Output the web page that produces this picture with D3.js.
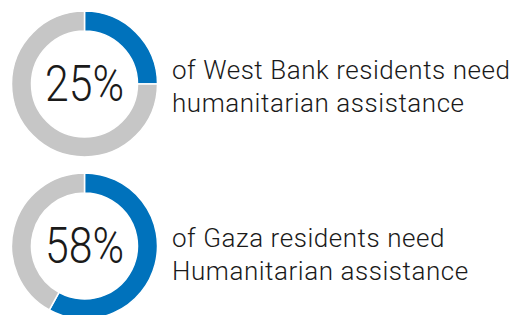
<!DOCTYPE html>
<html>
<head>
<meta charset="utf-8">
<script src="https://cdn.jsdelivr.net/npm/d3@7"></script>
<style>
  body { margin: 0; background: #fff; }
  text { font-family: Roboto, sans-serif; font-weight: 300; fill: #1a1a1a; }
</style>
</head>
<body>
<script>
const regions = ['West Bank', 'Gaza'];
const shares = [25, 58];
const captions = [
  ['of West Bank residents need', 'humanitarian assistance'],
  ['of Gaza residents need', 'Humanitarian assistance']
];

const width = 522;
const height = 315;
const outer = 73;
const inner = 53;

const svg = d3.select('body')
  .append('svg')
  .attr('width', width)
  .attr('height', height);

const pie = d3.pie().sort(null).value(d => d);
const arc = d3.arc().innerRadius(inner).outerRadius(outer);
const colors = ['#0072bc', '#c6c6c6'];

const y = d3.scaleBand()
  .domain(regions)
  .range([11, 11 + 162 * 2]);

regions.forEach((r, i) => {
  const cy = y(r) + outer;
  const g = svg.append('g')
    .attr('transform', `translate(84.5, ${cy})`);

  g.selectAll('path')
    .data(pie([shares[i], 100 - shares[i]]))
    .enter()
    .append('path')
    .attr('d', arc)
    .attr('fill', (d, j) => colors[j])
    .attr('stroke', '#fff')
    .attr('stroke-width', 1.5);

  g.append('text')
    .attr('y', 17)
    .attr('text-anchor', 'middle')
    .attr('font-size', 50)
    .attr('textLength', 79)
    .attr('lengthAdjust', 'spacingAndGlyphs')
    .text(shares[i] + '%');

  svg.append('g')
    .attr('transform', `translate(172, ${cy})`)
    .selectAll('text')
    .data(captions[i])
    .enter()
    .append('text')
    .attr('y', (d, k) => (i === 0 ? -5 : 1) + k * 33)
    .attr('font-size', 26)
    .attr('letter-spacing', 0.55)
    .text(d => d);
});
</script>
</body>
</html>
